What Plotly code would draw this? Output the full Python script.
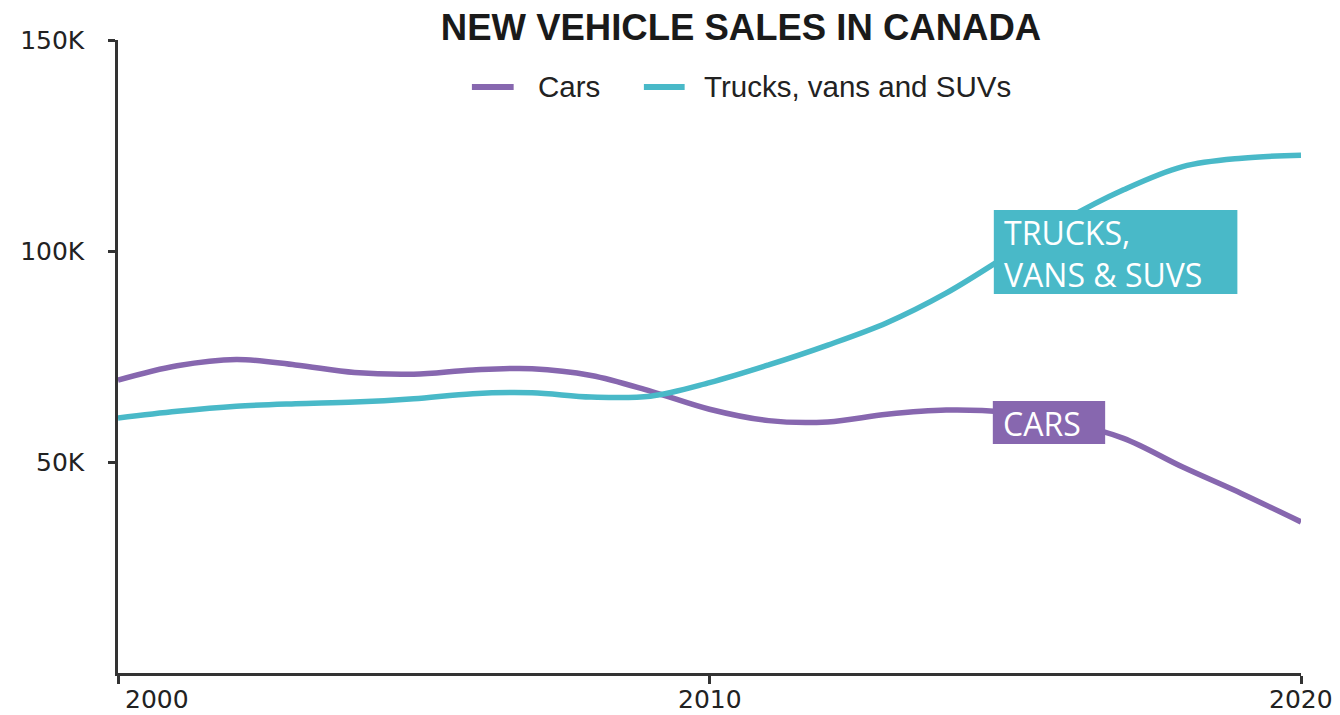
import plotly.graph_objects as go

years = list(range(2000, 2021))
cars = [69.4, 72.8, 74.3, 73.0, 71.2, 70.8, 71.8, 72.1, 70.5, 66.8, 62.5,
        59.8, 59.5, 61.3, 62.3, 61.8, 59.5, 55.6, 48.8, 42.5, 35.8]
trucks = [60.4, 62.0, 63.2, 63.8, 64.2, 65.0, 66.2, 66.4, 65.4, 65.6, 68.8,
          73.0, 77.7, 83.0, 90.0, 98.6, 107.3, 114.5, 120.0, 122.0, 122.7]
cars = [v * 1000 for v in cars]
trucks = [v * 1000 for v in trucks]

series_names = ["Cars", "Trucks, vans and SUVs"]
label_texts = ["CARS", "TRUCKS,<br>VANS &amp; SUVS"]

y_tickvals = [50000, 100000, 150000]
y_ticktext = ["50K", "100K", "150K"]
x_tickvals = [2000, 2010, 2020]
x_ticktext = ["2000", "2010", "2020"]

PURPLE = "#8767AF"
TEAL = "#49B9C8"
AXIS = "#333333"
TXT = "#222222"

# page geometry (browser body has an 8px margin)
OFF = 8
W, H = 1340 - OFF, 715 - OFF
PL, PR, PT, PB = 111, 1301, 40, 673   # plot area in page pixels


def px(x):
    return (x - PL) / (PR - PL)


def py(y):
    return (PB - y) / (PB - PT)


fig = go.Figure()
colors = [PURPLE, TEAL]
for name, vals, c in zip(series_names, [cars, trucks], colors):
    fig.add_trace(go.Scatter(x=years, y=vals, name=name, mode="lines", showlegend=False,
                             line=dict(color=c, width=5.5, shape="spline", smoothing=1.0)))

fig.update_layout(
    width=W, height=H,
    margin=dict(l=PL - OFF, r=W - (PR - OFF), t=PT - OFF, b=H - (PB - OFF)),
    paper_bgcolor="white", plot_bgcolor="white",
    title=dict(text="NEW VEHICLE SALES IN CANADA", x=(741 - OFF) / W, xanchor="center",
               y=1 - (27 - OFF) / H, yanchor="middle", xref="container", yref="container",
               font=dict(family="Liberation Sans, Arial", size=36.5, color="#1a1a1a", weight=700)),
    showlegend=False,
)

fig.update_xaxes(range=[2000, 2020], showgrid=False, zeroline=False,
                 showline=True, linecolor=AXIS, linewidth=2.5,
                 ticks="outside", ticklen=8, tickwidth=2.5, tickcolor=AXIS,
                 tickvals=x_tickvals, ticktext=x_ticktext, showticklabels=False)
fig.update_yaxes(range=[0, 150000], showgrid=False, zeroline=False,
                 showline=True, linecolor=AXIS, linewidth=2.5,
                 ticks="outside", ticklen=7, tickwidth=2.5, tickcolor=AXIS,
                 tickvals=y_tickvals, ticktext=y_ticktext,
                 tickfont=dict(family="DejaVu Sans", size=25, color=TXT),
                 ticklabelstandoff=19)

# x tick labels (first one nudged right of the axis)
for v, t in zip(x_tickvals, x_ticktext):
    first = v == x_tickvals[0]
    fig.add_annotation(x=v, y=0, xref="x", yref="paper", text=t, showarrow=False,
                       xanchor="left" if first else "center", yanchor="top",
                       xshift=5 if first else 0, yshift=-10,
                       font=dict(family="DejaVu Sans", size=25, color=TXT))

# legend (drawn manually to match the sample length and spacing)
legend_pos = [(467, 509, 531), (640, 681, 698)]
for name, c, (x0, x1, xt) in zip(series_names, colors, legend_pos):
    fig.add_shape(type="line", xref="paper", yref="paper", x0=px(x0), x1=px(x1),
                  y0=py(87), y1=py(87), line=dict(color=c, width=6))
    fig.add_annotation(xref="paper", yref="paper", x=px(xt), y=py(86), text=name,
                       showarrow=False, xanchor="left", yanchor="middle",
                       font=dict(family="Liberation Sans, Arial", size=29.5, color=TXT))

# series label boxes
boxes = [(991, 1104, 401, 444), (992, 1237, 210, 294)]
for c, (bx0, bx1, by0, by1), t in zip(colors, boxes, label_texts):
    fig.add_shape(type="rect", xref="paper", yref="paper", x0=px(bx0), x1=px(bx1),
                  y0=py(by1), y1=py(by0), fillcolor=c, line=dict(width=0), layer="above")
    fig.add_annotation(xref="paper", yref="paper", x=px(bx0 + 8), y=py((by0 + by1) / 2 + 1),
                       text=t, showarrow=False, xanchor="left", yanchor="middle",
                       align="left",
                       font=dict(family="Open Sans", size=32, color="white"))

fig.write_html("out.html")
